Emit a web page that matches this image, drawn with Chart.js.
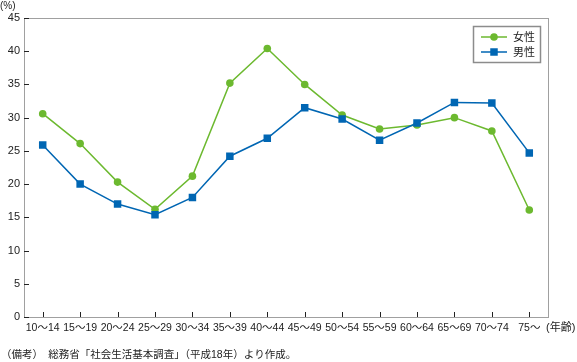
<!DOCTYPE html>
<html>
<head>
<meta charset="utf-8">
<script src="https://cdn.jsdelivr.net/npm/chart.js@4"></script>
<style>
  body { margin: 0; background: #fff; }
</style>
</head>
<body>
<canvas id="chart" width="577" height="362"></canvas>
<script>
// Age groups and rates (%)
const ageGroups = ['10～14', '15～19', '20～24', '25～29', '30～34', '35～39', '40～44',
  '45～49', '50～54', '55～59', '60～64', '65～69', '70～74', '75～'];
const female = [30.6, 26.1, 20.3, 16.2, 21.2, 35.2, 40.4, 35.0, 30.4, 28.3, 28.9, 30.0, 28.0, 16.1];
const male = [25.9, 20.0, 17.0, 15.4, 18.0, 24.2, 26.9, 31.5, 29.8, 26.6, 29.2, 32.3, 32.2, 24.7];
const yTicks = [0, 5, 10, 15, 20, 25, 30, 35, 40, 45];

const green = '#6cb92f';
const blue = '#0066b3';
const fontFamily = "'Liberation Sans', 'Noto Sans CJK JP', sans-serif";

Chart.defaults.font.family = fontFamily;
Chart.defaults.color = '#222';

// Frame, inward tick marks, custom legend and notes
const decorations = {
  id: 'decorations',
  afterDraw(chart) {
    const { ctx, chartArea: a, scales: { x, y } } = chart;
    ctx.save();

    // frame
    ctx.strokeStyle = '#a0a0a0';
    ctx.lineWidth = 1;
    ctx.strokeRect(a.left + 0.5, a.top + 0.5, a.right - a.left, a.bottom - a.top);

    // tick marks pointing into the plot
    ctx.strokeStyle = '#222';
    ctx.beginPath();
    y.ticks.forEach((t, i) => {
      const py = Math.round(y.getPixelForTick(i)) + 0.5;
      ctx.moveTo(a.left, py);
      ctx.lineTo(a.left + 5, py);
    });
    x.ticks.forEach((t, i) => {
      const px = Math.round(x.getPixelForTick(i)) + 0.5;
      ctx.moveTo(px, a.bottom);
      ctx.lineTo(px, a.bottom - 5);
    });
    ctx.stroke();

    // legend box
    ctx.strokeStyle = '#8c8c8c';
    ctx.lineWidth = 1.5;
    ctx.strokeRect(473.5, 26.5, 67, 36);
    const items = [
      { label: '女性', color: green, style: 'circle', r: 3.8, yy: 37 },
      { label: '男性', color: blue, style: 'rect', r: 5.3, yy: 52 }
    ];
    ctx.font = '11px ' + fontFamily;
    ctx.textBaseline = 'middle';
    ctx.textAlign = 'left';
    items.forEach(it => {
      ctx.strokeStyle = it.color;
      ctx.lineWidth = 1.5;
      ctx.beginPath();
      ctx.moveTo(481, it.yy);
      ctx.lineTo(507, it.yy);
      ctx.stroke();
      ctx.fillStyle = it.color;
      Chart.helpers.drawPoint(ctx, { pointStyle: it.style, radius: it.r, borderWidth: 0 }, 494, it.yy);
      ctx.fillStyle = '#222';
      ctx.fillText(it.label, 513, it.yy + 1);
    });

    // unit labels and source note
    ctx.fillStyle = '#222';
    ctx.font = '10px ' + fontFamily;
    ctx.fillText('(%)', 0, 6);
    ctx.font = '11px ' + fontFamily;
    ctx.fillText('(年齢)', 546, 328);
    ctx.font = '10.5px ' + fontFamily;
    ctx.fillText('（備考）　総務省「社会生活基本調査」（平成18年）より作成。', 1, 355);

    ctx.restore();
  }
};

new Chart(document.getElementById('chart'), {
  type: 'line',
  data: {
    labels: ageGroups,
    datasets: [
      {
        label: '女性',
        data: female,
        borderColor: green,
        backgroundColor: green,
        borderWidth: 1.5,
        pointStyle: 'circle',
        pointRadius: 3.8,
        pointBorderWidth: 0,
        tension: 0,
        order: 2
      },
      {
        label: '男性',
        data: male,
        borderColor: blue,
        backgroundColor: blue,
        borderWidth: 1.5,
        pointStyle: 'rect',
        pointRadius: 5.3,
        pointBorderWidth: 0,
        tension: 0,
        order: 1
      }
    ]
  },
  options: {
    responsive: false,
    animation: false,
    layout: { padding: { top: 18, right: 29, left: 0, bottom: 0 } },
    plugins: {
      legend: { display: false },
      tooltip: { enabled: false }
    },
    scales: {
      x: {
        offset: true,
        grid: { display: false, drawTicks: false },
        border: { display: false },
        ticks: {
          font: { size: 10.5 },
          padding: 5,
          maxRotation: 0,
          autoSkip: false
        },
        afterFit(s) { s.height = 45; }
      },
      y: {
        min: 0,
        max: 45,
        afterBuildTicks(s) { s.ticks = yTicks.map(v => ({ value: v })); },
        grid: { display: false, drawTicks: false },
        border: { display: false },
        ticks: { font: { size: 11 }, padding: 4 },
        afterFit(s) { s.width = 24; }
      }
    }
  },
  plugins: [decorations]
});
</script>
</body>
</html>
